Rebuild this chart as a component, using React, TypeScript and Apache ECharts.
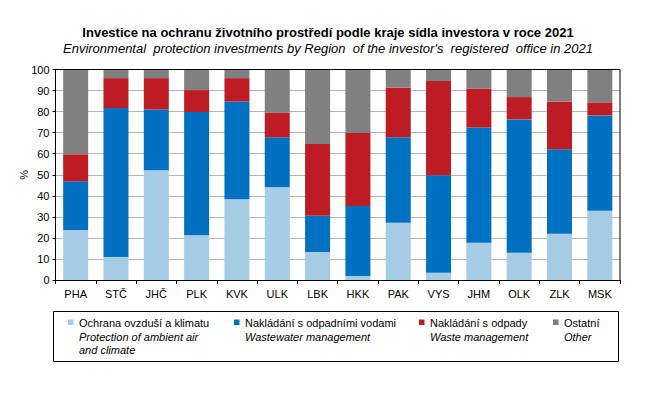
import React, { useEffect, useRef } from "react";
import * as echarts from "echarts";

const categories = ["PHA", "STČ", "JHČ", "PLK", "KVK", "ULK", "LBK", "HKK", "PAK", "VYS", "JHM", "OLK", "ZLK", "MSK"];
const airClimate = [23.7, 10.9, 52.1, 21.3, 38.4, 44.1, 13.3, 1.9, 27.2, 3.5, 17.7, 13.0, 22.0, 32.9];
const wastewater = [23.2, 70.8, 28.9, 58.5, 46.4, 23.7, 17.2, 33.3, 40.6, 46.3, 54.8, 63.3, 40.1, 45.3];
const waste = [12.8, 14.2, 14.9, 10.4, 11.1, 11.8, 34.1, 34.6, 23.7, 44.7, 18.5, 10.6, 22.7, 6.2];
const other = [40.3, 4.1, 4.1, 9.8, 4.1, 20.4, 35.4, 30.2, 8.5, 5.5, 9.0, 13.1, 15.2, 15.6];

const seriesNamesCz = ["Ochrana ovzduší a klimatu", "Nakládání s odpadními vodami", "Nakládání s odpady", "Ostatní"];
const seriesNamesEn = [["Protection of ambient air", "and climate"], ["Wastewater management"], ["Waste management"], ["Other"]];
const colors = ["#a6cbe5", "#0070c0", "#be1c24", "#808080"];
const seriesData = [airClimate, wastewater, waste, other];

const titleCz = "Investice na ochranu životního prostředí podle kraje sídla investora v roce 2021";
const titleEn = "Environmental  protection investments by Region  of the investor's  registered  office in 2021";

const FONT = "Liberation Sans, Arial, sans-serif";

export default function App() {
  const ref = useRef<HTMLDivElement>(null);
  useEffect(() => {
    if (!ref.current) return;
    const chart = echarts.init(ref.current, undefined, { renderer: "svg" });
    const legendX = [68, 234, 419, 553];
    const graphics: any[] = [
      {
        type: "rect",
        shape: { x: 53.5, y: 311.5, width: 565, height: 50 },
        style: { fill: "none", stroke: "#000", lineWidth: 1 },
      },
    ];
    seriesNamesCz.forEach((n, i) => {
      graphics.push({
        type: "rect",
        shape: { x: legendX[i], y: 319.5, width: 5.5, height: 5.5 },
        style: { fill: colors[i] },
      });
      graphics.push({
        type: "text",
        x: legendX[i] + 11,
        y: 322.5,
        style: { text: n, font: `11px ${FONT}`, fill: "#000", verticalAlign: "middle" },
      });
      seriesNamesEn[i].forEach((t, j) => {
        graphics.push({
          type: "text",
          x: legendX[i] + 11,
          y: 337 + j * 13,
          style: { text: t, font: `italic 11px ${FONT}`, fill: "#000", verticalAlign: "middle" },
        });
      });
    });
    graphics.push({
      type: "rect",
      shape: { x: 55.5, y: 69.5, width: 564.5, height: 211 },
      style: { fill: "none", stroke: "#000", lineWidth: 1 },
      z: 10,
      silent: true,
    });
    chart.setOption({
      animation: false,
      title: [
        {
          text: titleCz,
          left: "center",
          top: 21,
          textStyle: { fontFamily: FONT, fontWeight: "bold", fontSize: 13, color: "#000" },
        },
        {
          text: titleEn,
          left: "center",
          top: 37,
          textStyle: { fontFamily: FONT, fontStyle: "italic", fontWeight: "normal", fontSize: 13, color: "#000" },
        },
      ],
      grid: { left: 55.5, right: 36, top: 69.5, bottom: 117 },
      xAxis: {
        type: "category",
        data: categories,
        axisLine: { lineStyle: { color: "#000" } },
        axisTick: { show: true, alignWithLabel: false, length: 4, lineStyle: { color: "#000" } },
        axisLabel: { color: "#000", fontFamily: FONT, fontSize: 11, margin: 8 },
      },
      yAxis: {
        type: "value",
        min: 0,
        max: 100,
        interval: 10,
        name: "%",
        nameLocation: "middle",
        nameGap: 26,
        nameMoveOverlap: false,
        nameRotate: 90,
        nameTextStyle: { color: "#000", fontFamily: FONT, fontSize: 11 },
        axisLine: { show: true, lineStyle: { color: "#000" } },
        axisTick: { show: true, length: 3, inside: false, lineStyle: { color: "#000" } },
        axisLabel: { color: "#000", fontFamily: FONT, fontSize: 11, margin: 6 },
        splitLine: { lineStyle: { color: "#b4b4b4" } },
      },
      series: seriesData.map((d, i) => ({
        type: "bar",
        name: seriesNamesCz[i],
        stack: "total",
        data: d,
        barWidth: 25,
        itemStyle: { color: colors[i] },
      })),
      graphic: graphics,
    });
    return () => chart.dispose();
  }, []);
  return <div ref={ref} style={{ position: "absolute", left: 0, top: 0, width: 656, height: 397 }} />;
}
